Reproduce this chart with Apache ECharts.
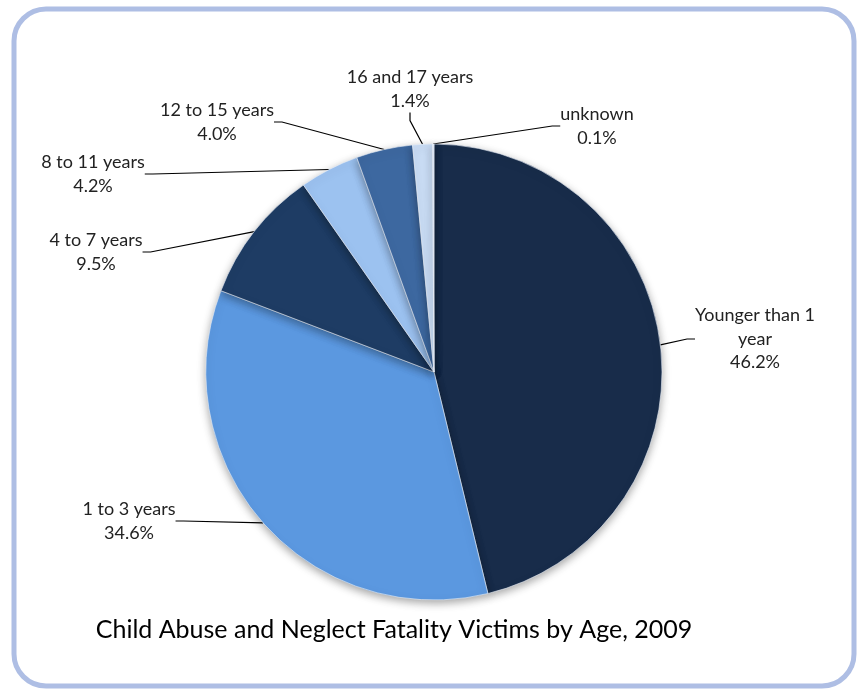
<!DOCTYPE html>
<html>
<head>
<meta charset="utf-8">
<script src="https://cdn.jsdelivr.net/npm/echarts@6/dist/echarts.min.js"></script>
<style>
html,body{margin:0;padding:0;background:#fff;}
#chart{width:859px;height:689px;}
</style>
</head>
<body>
<div id="chart"></div>
<script>
const categories = ['Younger than 1 year', '1 to 3 years', '4 to 7 years', '8 to 11 years', '12 to 15 years', '16 and 17 years', 'unknown'];
const labelNames = ['Younger than 1\nyear', '1 to 3 years', '4 to 7 years', '8 to 11 years', '12 to 15 years', '16 and 17 years', 'unknown'];
const values = [46.2, 34.6, 9.5, 4.2, 4.0, 1.4, 0.1];
const colors = ['#182c4a', '#5b98e0', '#1e3c64', '#9cc2f0', '#3d68a0', '#c9dcf4', '#dce8f8'];
const titleText = 'Child Abuse and Neglect Fatality Victims by Age, 2009';

// label block centres (layout only)
const labelPos = [[755, 339], [129, 521], [96, 252], [93, 174], [217, 122], [410, 89], [597, 126]];

const chart = echarts.init(document.getElementById('chart'), null, {renderer: 'canvas'});
chart.setOption({
  backgroundColor: '#ffffff',
  animation: false,
  title: {
    text: titleText,
    left: 389, top: 612, textAlign: 'center',
    textStyle: {fontFamily: 'Lato', fontSize: 25, fontWeight: 'normal', color: '#000'}
  },
  graphic: [{
    type: 'rect', z: -1,
    shape: {x: 14, y: 9, width: 840, height: 677, r: 32},
    style: {fill: 'none', stroke: '#aebee4', lineWidth: 5}
  }],
  series: [{
    type: 'pie',
    center: [434, 372],
    radius: 228,
    startAngle: 90,
    clockwise: true,
    avoidLabelOverlap: false,
    data: categories.map((c, i) => ({
      name: c, value: values[i],
      itemStyle: {color: colors[i]},
      label: {formatter: labelNames[i] + '\n' + values[i].toFixed(1) + '%'}
    })),
    itemStyle: {
      borderColor: '#e8eef8', borderWidth: 0.6,
      shadowBlur: 8, shadowColor: 'rgba(0,0,0,0.35)', shadowOffsetY: 3
    },
    label: {
      show: true, position: 'outside',
      fontFamily: 'Lato', fontSize: 18, lineHeight: 23.5, color: '#222', align: 'center'
    },
    labelLine: {show: true, length: 20, length2: 8, lineStyle: {color: '#000', width: 1.2}},
    labelLayout: function (p) {
      const pos = labelPos[p.dataIndex];
      return {x: pos[0], y: pos[1], align: 'center', verticalAlign: 'middle'};
    },
    emphasis: {disabled: true}
  }]
});
</script>
</body>
</html>
